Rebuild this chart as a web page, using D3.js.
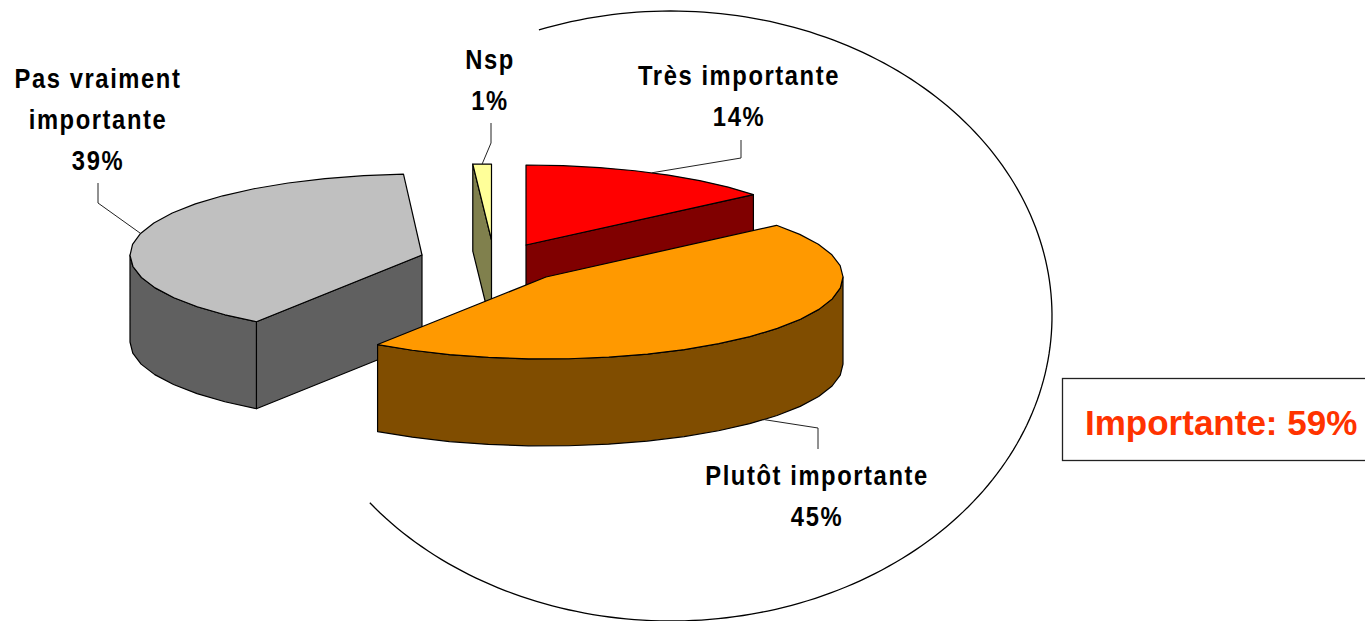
<!DOCTYPE html>
<html lang="fr">
<head>
<meta charset="utf-8">
<title>Importance</title>
<script src="https://cdnjs.cloudflare.com/ajax/libs/d3/7.8.5/d3.min.js"></script>
<style>
  html, body { margin: 0; padding: 0; background: #fff; overflow: hidden; }
  svg { display: block; }
  text { font-family: "Liberation Sans", Arial, sans-serif; font-weight: bold; }
</style>
</head>
<body>
<div id="container"></div>
<script>
/**
 * DATA
 * */
const categories = ["Très importante", "Plutôt importante", "Pas vraiment importante", "Nsp"];
const values = [14, 45, 39, 1];
const labelLines = [["Très importante", "14%"], ["Plutôt importante", "45%"], ["Pas vraiment", "importante", "39%"], ["Nsp", "1%"]];
const topColors = ["#ff0000", "#ff9900", "#c0c0c0", "#ffff99"];
const sideColors = ["#800000", "#804d00", "#606060", "#80804d"];
const summaryText = "Importante: 59%";

/**
 * LAYOUT
 * */
const width = 1365, height = 621, depth = 87;
// exploded slices: each one has its own apex and radii
const sliceGeo = [
  { cx: 526, cy: 245, rx: 293, ry: 80 },
  { cx: 546, cy: 277, rx: 297, ry: 82 },
  { cx: 422, cy: 255, rx: 292, ry: 81 },
  { cx: 491.5, cy: 240, rx: 295, ry: 76 }
];
// elbow and end of each leader line, then the label centre and first baseline
const leaders = [
  { elbow: [741, 158], end: [741, 140], lx: 739, ly: 85 },
  { elbow: [818, 428], end: [818, 449], lx: 817, ly: 485 },
  { elbow: [98, 203], end: [98, 183], lx: 98, ly: 88 },
  { elbow: [491, 143], end: [491, 123], lx: 490, ly: 69 }
];
const lineGap = 41;
const oval = { cx: 671, cy: 316, rx: 381, ry: 305 };

const svg = d3.select("#container")
  .append("svg")
  .attr("width", width)
  .attr("height", height);

const pie = d3.pie().sort(null).startAngle(0).endAngle(2 * Math.PI);
const arcs = pie(values);
const line = d3.line();

const rimPoint = (g, t, dy = 0) => [g.cx + g.rx * Math.sin(t), g.cy - g.ry * Math.cos(t) + dy];

// points along the rim, coarse steps like the old office chart
function rim(g, a0, a1, dy = 0) {
  const n = Math.max(1, Math.ceil((a1 - a0) / 0.14));
  return d3.range(n + 1).map(i => rimPoint(g, a0 + (a1 - a0) * i / n, dy));
}

// big hand drawn oval behind the chart, open on the upper left
const ovalStart = -0.354, ovalEnd = 2 * Math.PI - 2.23;
svg.append("path")
  .attr("d", line(d3.range(201).map(i => {
    const t = ovalStart + (ovalEnd - ovalStart) * i / 200;
    return [oval.cx + oval.rx * Math.sin(t), oval.cy - oval.ry * Math.cos(t)];
  })))
  .attr("fill", "none")
  .attr("stroke", "#000")
  .attr("stroke-width", 1.3);

// drawn back to front, the orange slice has to cover the others
const order = [0, 3, 2, 1];
order.forEach(i => {
  const g = sliceGeo[i], a0 = arcs[i].startAngle, a1 = arcs[i].endAngle;
  const slice = svg.append("g").attr("class", "slice");
  const sideFaces = [];

  // cut faces turned toward the viewer
  if (Math.sin(a0) < -1e-6) {
    sideFaces.push([[g.cx, g.cy], rimPoint(g, a0), rimPoint(g, a0, depth), [g.cx, g.cy + depth]]);
  }
  if (Math.sin(a1) > 1e-6) {
    sideFaces.push([[g.cx, g.cy], rimPoint(g, a1), rimPoint(g, a1, depth), [g.cx, g.cy + depth]]);
  }
  // outer wall, only the front half of the rim
  const w0 = Math.max(a0, Math.PI / 2), w1 = Math.min(a1, 3 * Math.PI / 2);
  if (w1 > w0) {
    sideFaces.push(rim(g, w0, w1).concat(rim(g, w0, w1, depth).reverse()));
  }

  slice.selectAll("path.side")
    .data(sideFaces)
    .join("path")
    .attr("class", "side")
    .attr("d", d => line(d) + "Z")
    .attr("fill", sideColors[i])
    .attr("stroke", "#000")
    .attr("stroke-width", 1.2)
    .attr("stroke-linejoin", "round");

  slice.append("path")
    .attr("class", "top")
    .attr("d", line([[g.cx, g.cy]].concat(rim(g, a0, a1))) + "Z")
    .attr("fill", topColors[i])
    .attr("stroke", "#000")
    .attr("stroke-width", 1.2)
    .attr("stroke-linejoin", "round");
});

// leader lines start on the rim at the middle of the slice
arcs.forEach((d, i) => {
  const mid = (d.startAngle + d.endAngle) / 2;
  const front = Math.cos(mid) < 0;
  const start = rimPoint(sliceGeo[i], mid, front ? depth : 0);
  svg.append("path")
    .attr("d", line([start, leaders[i].elbow, leaders[i].end]))
    .attr("fill", "none")
    .attr("stroke", "#222")
    .attr("stroke-width", 1);
});

// labels, squeezed sideways like the stretched screenshot
labelLines.forEach((lines, i) => {
  const lead = leaders[i];
  const label = svg.append("text")
    .attr("aria-label", categories[i])
    .attr("transform", `translate(${lead.lx},${lead.ly}) scale(0.88,1)`)
    .attr("text-anchor", "middle")
    .attr("font-size", 27)
    .attr("letter-spacing", 1.8)
    .attr("fill", "#000");
  label.selectAll("tspan")
    .data(lines)
    .join("tspan")
    .attr("x", 0)
    .attr("y", (d, j) => j * lineGap)
    .text(d => d);
});

// summary box runs off the right edge
svg.append("rect")
  .attr("x", 1062.5)
  .attr("y", 378.5)
  .attr("width", 340)
  .attr("height", 82)
  .attr("fill", "#fff")
  .attr("stroke", "#222")
  .attr("stroke-width", 1.3);

svg.append("text")
  .attr("x", 1085)
  .attr("y", 435)
  .attr("font-size", 35)
  .attr("fill", "#ff3300")
  .text(summaryText);
</script>
</body>
</html>
